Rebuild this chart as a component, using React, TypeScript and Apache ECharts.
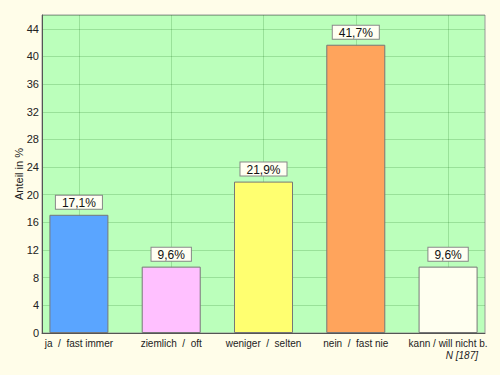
import React, { useEffect, useRef } from "react";
import * as echarts from "echarts";

const categories = ["ja  /  fast immer", "ziemlich  /  oft", "weniger  /  selten", "nein  /  fast nie", "kann / will nicht b."];
const values = [17.1, 9.6, 21.9, 41.7, 9.6];
const colors = ["#5aa5ff", "#ffc0ff", "#ffff70", "#ffa45c", "#fffff0"];
const positions = [0, 1, 2, 3, 4];

export default function App() {
  const ref = useRef<HTMLDivElement>(null);
  useEffect(() => {
    const chart = echarts.init(ref.current!, null, { renderer: "svg" });
    chart.setOption({
      animation: false,
      backgroundColor: "#fffde9",
      textStyle: { fontFamily: "Liberation Sans, Arial, sans-serif" },
      grid: {
        left: 42,
        right: 15,
        top: 15,
        bottom: 42,
        show: true,
        backgroundColor: "#bbffbb",
        borderColor: "#999",
        borderWidth: 1,
      },
      xAxis: {
        type: "value",
        min: -0.4,
        max: 4.4,
        axisLine: { show: true, onZero: false, lineStyle: { color: "#555", width: 1 } },
        axisTick: { show: false, customValues: positions },
        axisLabel: {
          customValues: positions,
          color: "#222",
          fontSize: 10,
          margin: 5,
          formatter: (v: number) => categories[Math.round(v)] ?? "",
        },
        splitLine: { show: true, lineStyle: { color: "rgba(0,90,0,0.18)", width: 1 } },
      },
      yAxis: {
        type: "value",
        min: 0,
        max: 46,
        interval: 4,
        name: "Anteil in %",
        nameLocation: "middle",
        nameGap: 18,
        nameMoveOverlap: false,
        nameRotate: 90,
        nameTextStyle: { color: "#222", fontSize: 11 },
        axisLine: { show: true, onZero: false, lineStyle: { color: "#555", width: 1 } },
        axisTick: { show: false },
        axisLabel: { color: "#222", fontSize: 11, margin: 3, showMaxLabel: false },
        splitLine: { show: true, lineStyle: { color: "rgba(0,90,0,0.18)", width: 1 } },
      },
      series: [
        {
          type: "bar",
          barWidth: 59,
          data: values.map((v, i) => ({
            value: [positions[i], v],
            itemStyle: { color: colors[i] },
          })),
          itemStyle: { borderColor: "#777", borderWidth: 1 },
          label: {
            show: true,
            position: "top",
            distance: 6,
            formatter: (p: any) => String(p.value[1]).replace(".", ",") + "%",
            color: "#111",
            fontSize: 12,
            backgroundColor: "#fffff2",
            borderColor: "#888",
            borderWidth: 1,
            padding: [1, 6, 0, 6],
          },
        },
      ],
      graphic: [
        {
          type: "text",
          right: 22,
          top: 350,
          style: { text: "N [187]", fontSize: 10, fontStyle: "italic", fill: "#222", fontFamily: "Liberation Sans, Arial, sans-serif" },
        },
      ],
    });
    return () => chart.dispose();
  }, []);
  return (
    <div style={{ position: "absolute", left: 0, top: 0 }}>
      <div ref={ref} style={{ width: 500, height: 375 }} />
    </div>
  );
}
